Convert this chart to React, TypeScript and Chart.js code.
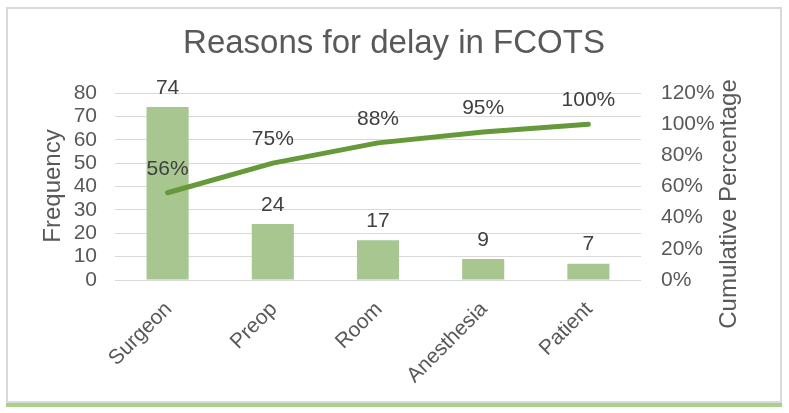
import React, { useEffect, useRef } from "react";
import { Chart, registerables } from "chart.js";

Chart.register(...registerables);

const TITLE = "Reasons for delay in FCOTS";
const categories = ["Surgeon", "Preop", "Room", "Anesthesia", "Patient"];
const frequency = [74, 24, 17, 9, 7];
const cumulative = [0.56, 0.75, 0.88, 0.95, 1.0];
const leftTitle = "Frequency";
const rightTitle = "Cumulative Percentage";

const FONT = "'Liberation Sans', Arial, sans-serif";
const W = 789;
const H = 413;

const decorPlugin = {
  id: "decor",
  beforeDraw(chart: any) {
    const ctx = chart.ctx;
    ctx.save();
    ctx.fillStyle = "#ffffff";
    ctx.fillRect(0, 0, W, H);
    ctx.strokeStyle = "#d9d9d9";
    ctx.lineWidth = 2;
    ctx.strokeRect(7, 8, 774, 394);
    ctx.fillStyle = "#a9d18e";
    ctx.fillRect(6, 403, 776, 4);
    ctx.restore();
  },
  afterDatasetsDraw(chart: any) {
    const ctx = chart.ctx;
    ctx.save();
    ctx.fillStyle = "#404040";
    ctx.font = `21px ${FONT}`;
    ctx.textAlign = "center";
    ctx.textBaseline = "middle";
    const barMeta = chart.getDatasetMeta(1);
    barMeta.data.forEach((el: any, i: number) => {
      ctx.fillText(String(frequency[i]), el.x, el.y - 19);
    });
    const lineMeta = chart.getDatasetMeta(0);
    lineMeta.data.forEach((el: any, i: number) => {
      ctx.fillText(Math.round(cumulative[i] * 100) + "%", el.x, el.y - 24);
    });
    ctx.restore();
  },
  afterDraw(chart: any) {
    const ctx = chart.ctx;
    ctx.save();
    ctx.fillStyle = "#595959";
    ctx.textAlign = "center";
    ctx.textBaseline = "middle";
    ctx.font = `33px ${FONT}`;
    ctx.fillText(TITLE, 394, 44);
    ctx.font = `24px ${FONT}`;
    ctx.save();
    ctx.translate(53, 186);
    ctx.rotate(-Math.PI / 2);
    ctx.fillText(leftTitle, 0, 0);
    ctx.restore();
    ctx.save();
    ctx.translate(729, 204);
    ctx.rotate(-Math.PI / 2);
    ctx.fillText(rightTitle, 0, 0);
    ctx.restore();
    ctx.restore();
  },
};

export default function App() {
  const ref = useRef<HTMLCanvasElement>(null);
  useEffect(() => {
    if (!ref.current) return;
    const chart = new Chart(ref.current, {
      type: "bar",
      data: {
        labels: categories,
        datasets: [
          {
            type: "line",
            label: "Cumulative Percentage",
            data: cumulative,
            yAxisID: "y1",
            borderColor: "#65993a",
            backgroundColor: "#65993a",
            borderWidth: 5,
            pointRadius: 0,
            borderCapStyle: "round",
            borderJoinStyle: "round",
            tension: 0,
            order: 0,
          } as any,
          {
            type: "bar",
            label: "Frequency",
            data: frequency,
            yAxisID: "y",
            backgroundColor: "#a8c68f",
            barPercentage: 0.4,
            categoryPercentage: 1,
            order: 1,
          },
        ],
      },
      options: {
        responsive: false,
        animation: false,
        layout: { padding: { top: 93, left: 0, right: 0, bottom: 0 } },
        plugins: { legend: { display: false }, tooltip: { enabled: false }, title: { display: false } },
        scales: {
          x: {
            grid: { display: false },
            border: { display: false },
            ticks: {
              color: "#595959",
              font: { family: FONT, size: 21 },
              maxRotation: 45,
              minRotation: 45,
              padding: 9,
              labelOffset: 1,
              autoSkip: false,
            },
            afterFit(scale: any) {
              scale.height = 133;
            },
          },
          y: {
            position: "left",
            min: 0,
            max: 80,
            grid: { color: "#d9d9d9", lineWidth: 1, drawTicks: false },
            border: { display: false },
            ticks: {
              stepSize: 10,
              autoSkip: false,
              color: "#595959",
              font: { family: FONT, size: 21 },
              padding: 18,
            },
            afterFit(scale: any) {
              scale.width = 115;
            },
          },
          y1: {
            position: "right",
            min: 0,
            max: 1.2,
            grid: { display: false, drawTicks: false },
            border: { display: false },
            ticks: {
              stepSize: 0.2,
              autoSkip: false,
              color: "#595959",
              font: { family: FONT, size: 21 },
              padding: 20,
              callback: (v: any) => Math.round(Number(v) * 100) + "%",
            },
            afterFit(scale: any) {
              scale.width = 148;
            },
          },
        },
      },
      plugins: [decorPlugin],
    });
    return () => chart.destroy();
  }, []);
  return (
    <div style={{ position: "absolute", left: 0, top: 0, width: W, height: H }}>
      <canvas ref={ref} width={W} height={H} style={{ display: "block" }} />
    </div>
  );
}
